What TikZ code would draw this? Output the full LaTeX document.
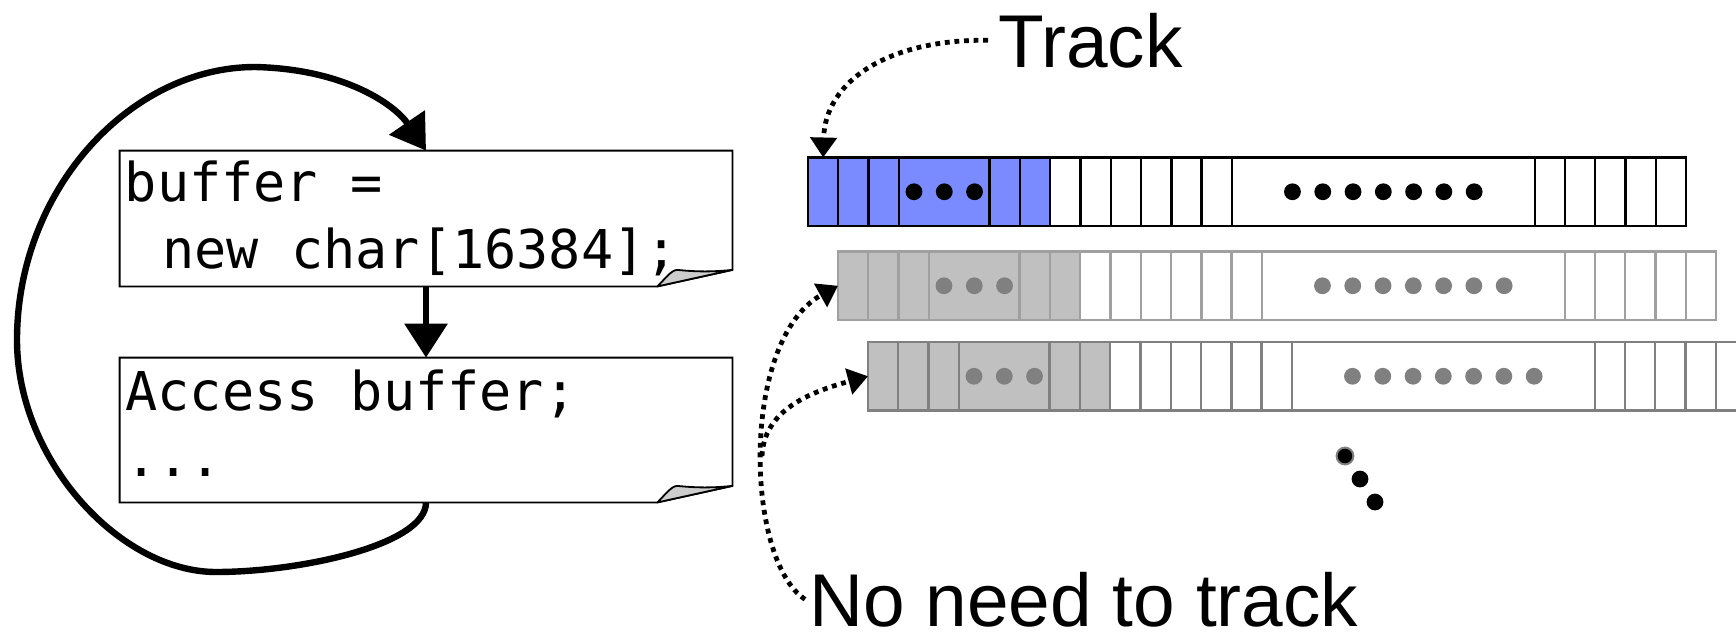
\documentclass[tikz,border=0pt]{standalone}
\usepackage{fontspec}
\setmainfont{Liberation Sans}
\newfontfamily\codefont{DejaVu Sans Mono}
\usetikzlibrary{arrows.meta}
\definecolor{trkblue}{RGB}{121,139,255}
\definecolor{untrk}{RGB}{192,192,192}
\definecolor{rowtwoline}{RGB}{160,160,160}
\definecolor{rowthreeline}{RGB}{128,128,128}
\definecolor{dotgray}{RGB}{128,128,128}
\definecolor{flapgray}{RGB}{205,205,205}
\newcommand\trkcellw{30.28}
\newcommand\trkrowh{68.5}
\newcommand\drawtrackrow[6]{%
  \coordinate (#1nw) at (#2,#3);
  \coordinate (#1w) at (#2,{#3+\trkrowh/2});
  \coordinate (#1top) at ({#2+\trkcellw/2},#3);
  \fill[white] (#2,#3) rectangle ({#2+29*\trkcellw},{#3+\trkrowh});
  \fill[#4] (#2,#3) rectangle ({#2+8*\trkcellw},{#3+\trkrowh});
  \foreach \k in {1,2,3,6,7,8,9,10,11,12,13,14,24,25,26,27,28}
    {\draw[#5, line width=1.2pt] ({#2+\k*\trkcellw},#3) -- ({#2+\k*\trkcellw},{#3+\trkrowh});}
  \draw[#5, line width=1.2pt] (#2,#3) rectangle ({#2+29*\trkcellw},{#3+\trkrowh});
  \foreach \k in {3.5,4.5,5.5,16,17,18,19,20,21,22}
    {\fill[#6] ({#2+\k*\trkcellw},{#3+\trkrowh/2}) circle[radius=4.2pt];}
}
\tikzset{
  codebox/.style={minimum width=306pt, inner sep=0pt, draw=none},
  boxline/.style={line width=0.9pt, draw=black, fill=white},
  flap/.style={draw=black, line width=0.9pt, fill=flapgray, line join=round},
  codetext/.style={inner sep=0pt, anchor=base west, font=\codefont\fontsize{26.75}{31}\selectfont},
  bigtext/.style={inner sep=0pt, anchor=base west, font=\fontsize{37.4}{40}\selectfont},
  flow/.style={line width=3.2pt, -{Triangle[width=21pt,length=17pt]}},
  hint/.style={line width=2.4pt, dash pattern=on 2.4pt off 2.4pt, -{Triangle[width=13pt,length=10pt]}},
}
\begin{document}
\begin{tikzpicture}[x=0.5pt,y=-0.5pt]
\clip (0,0) rectangle (1736,633);

% code boxes
\node[codebox, minimum height=67.5pt] (b1) at (426,218.5) {};
\node[codebox, minimum height=72pt] (b2) at (426,430) {};
\foreach \b in {b1,b2}{
  \draw[boxline] (\b.north west) -- (\b.north east) -- ([yshift=8.25pt]\b.south east)
     -- ([xshift=-37.5pt]\b.south east) -- (\b.south west) -- cycle;
  \draw[flap] ([xshift=-37.5pt]\b.south east) .. controls +(4pt,4pt) and +(-3pt,0pt)
     .. ([xshift=-27.5pt,yshift=8.25pt]\b.south east) .. controls +(10pt,-1pt) and +(-10pt,-1pt)
     .. ([yshift=8.25pt]\b.south east) -- cycle;
}
\node[codetext] (c1a) at (124.5,201) {buffer =};
\node[codetext] (c1b) at (162,268) {new char[16384];};
\node[codetext] (c2a) at (125,410) {Access buffer;};
\node[codetext] (c2b) at (125,476) {...};

% flow arrows
\draw[flow] (b1.south) -- (b2.north);
\draw[flow] (b2.south) .. controls (426,545) and (300,572) .. (216,572)
  .. controls (120,572) and (17,460) .. (17,340)
  .. controls (17,190) and (130,67) .. (255,67)
  .. controls (345,69) and (395,105) .. (b1.north);

% tracking rows
\drawtrackrow{rowa}{808}{157.5}{trkblue}{black}{black}
\drawtrackrow{rowb}{838}{251.5}{untrk}{rowtwoline}{dotgray}
\drawtrackrow{rowc}{868}{342}{untrk}{rowthreeline}{dotgray}

% vertical ellipsis
\fill[black, draw=dotgray, line width=1pt] (1345,456) circle[radius=4.2pt];
\fill[black] (1360,479) circle[radius=4.2pt];
\fill[black] (1375,502) circle[radius=4.2pt];

% labels
\node[bigtext] (track) at (998,67) {Track};
\node[bigtext] (noneed) at (809,626) {No need to track};

\draw[hint] ([xshift=-5pt]track.west) .. controls (890,39) and (825,80) .. (rowatop);
\draw[hint] ([xshift=-2pt]noneed.west) .. controls (745,560) and (740,340) .. (rowbw);
\coordinate (br) at (762,456);
\draw[hint] (br) .. controls (764,410) and (810,392) .. (rowcw);
\end{tikzpicture}
\end{document}
